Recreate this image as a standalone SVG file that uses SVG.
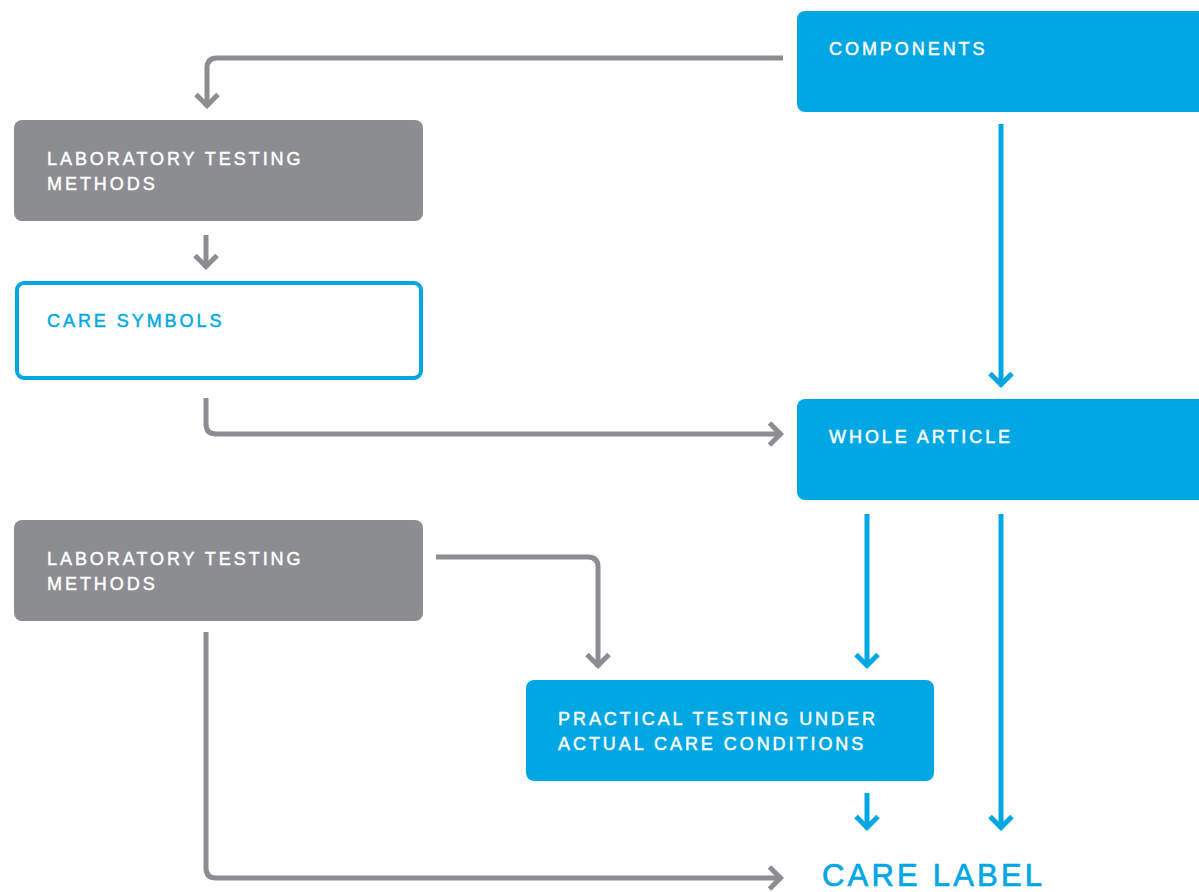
<svg xmlns="http://www.w3.org/2000/svg" width="1199" height="892" viewBox="0 0 1199 892">
<style>
.blue{fill:#00a7e3}
.gray{fill:#8c8d91}
.t{font-family:"Liberation Sans",Arial,sans-serif;font-size:18px;letter-spacing:2.95px;fill:#fff;stroke:#fff;stroke-width:0.45px}
.tb{fill:#00a7e3;stroke:#00a7e3}
.cg{fill:none;stroke:#8c8d91;stroke-width:5}
.cb{fill:none;stroke:#00a7e3;stroke-width:5}
</style>
<defs>
<marker id="ag" markerUnits="userSpaceOnUse" markerWidth="34" markerHeight="34" viewBox="-18 -17 22 34" refX="0" refY="0" orient="auto">
<path d="M-12.5,-11 L-1.5,0 L-12.5,11" fill="none" stroke="#8c8d91" stroke-width="5"/>
</marker>
<marker id="ab" markerUnits="userSpaceOnUse" markerWidth="34" markerHeight="34" viewBox="-18 -17 22 34" refX="0" refY="0" orient="auto">
<path d="M-12.5,-11 L-1.5,0 L-12.5,11" fill="none" stroke="#00a7e3" stroke-width="5"/>
</marker>
</defs>
<g id="connectors">
<path class="cg" d="M783,58 H217 Q207,58 207,68 V107" marker-end="url(#ag)"/>
<path class="cg" d="M206,235 V268" marker-end="url(#ag)"/>
<path class="cg" d="M206,398 V424 Q206,434 216,434 H782" marker-end="url(#ag)"/>
<path class="cg" d="M436,557 H588 Q598,557 598,567 V667" marker-end="url(#ag)"/>
<path class="cg" d="M206,632 V868 Q206,878 216,878 H782" marker-end="url(#ag)"/>
<path class="cb" d="M1001,124 V386" marker-end="url(#ab)"/>
<path class="cb" d="M867,514 V667" marker-end="url(#ab)"/>
<path class="cb" d="M1001,514 V829" marker-end="url(#ab)"/>
<path class="cb" d="M867,793 V829" marker-end="url(#ab)"/>
</g>
<g id="components">
<rect class="blue" x="797" y="11" width="420" height="101" rx="8"/>
<text class="t" x="829" y="55">COMPONENTS</text>
</g>
<g id="lab1">
<rect class="gray" x="14" y="120" width="409" height="101" rx="8"/>
<text class="t" x="47" y="165">LABORATORY TESTING</text>
<text class="t" x="47" y="190">METHODS</text>
</g>
<g id="care-symbols">
<rect x="17" y="283" width="404" height="95" rx="7" fill="#fff" stroke="#00a7e3" stroke-width="4"/>
<text class="t tb" x="47" y="327">CARE SYMBOLS</text>
</g>
<g id="whole-article">
<rect class="blue" x="797" y="399" width="420" height="101" rx="8"/>
<text class="t" x="829" y="443">WHOLE ARTICLE</text>
</g>
<g id="lab2">
<rect class="gray" x="14" y="520" width="409" height="101" rx="8"/>
<text class="t" x="47" y="565">LABORATORY TESTING</text>
<text class="t" x="47" y="590">METHODS</text>
</g>
<g id="practical">
<rect class="blue" x="526" y="680" width="408" height="101" rx="8"/>
<text class="t" x="558" y="725">PRACTICAL TESTING UNDER</text>
<text class="t" x="558" y="750">ACTUAL CARE CONDITIONS</text>
</g>
<g id="care-label">
<text x="822" y="886" font-family="'Liberation Sans',Arial,sans-serif" font-size="31" letter-spacing="3.2" fill="#00a7e3" stroke="#00a7e3" stroke-width="0.7">CARE LABEL</text>
</g>
</svg>
